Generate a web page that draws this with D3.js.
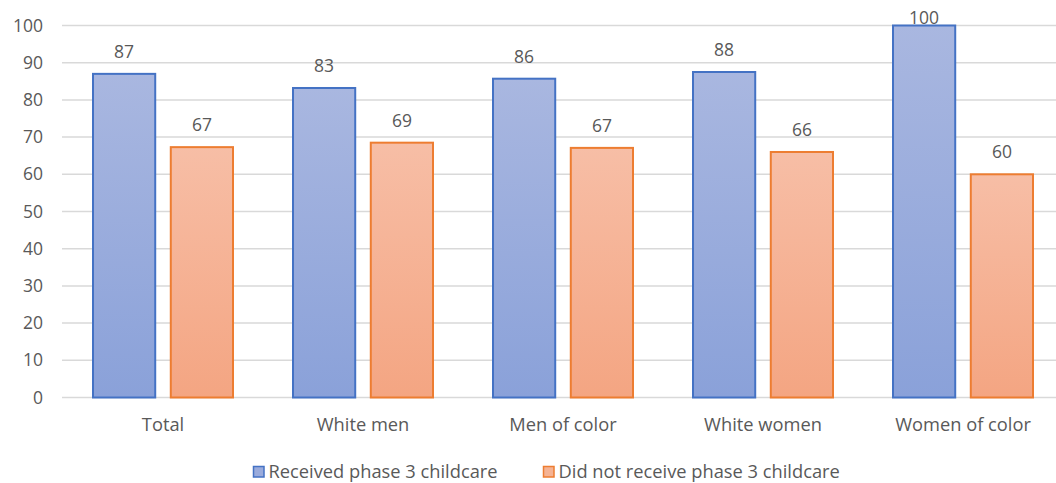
<!DOCTYPE html>
<html>
<head>
<meta charset="utf-8">
<script src="https://cdn.jsdelivr.net/npm/d3@7/dist/d3.min.js"></script>
<style>
  body { margin: 0; background: #fff; }
  svg text { font-family: "Segoe UI", "Open Sans", "Noto Sans", sans-serif; fill: #595959; }
</style>
</head>
<body>
<svg id="chart" width="1056" height="483"></svg>
<script>
/* Daten */
const categories = ["Total", "White men", "Men of color", "White women", "Women of color"];
const seriesNames = ["Received phase 3 childcare", "Did not receive phase 3 childcare"];
const received    = [87.0, 83.2, 85.7, 87.5, 100];
const notReceived = [67.3, 68.5, 67.1, 66.0, 60.0];
const yTicks = [0, 10, 20, 30, 40, 50, 60, 70, 80, 90, 100];

/* Optionen */
const width = 1056, height = 483;
const plot = { left: 63, right: 1063, top: 25.5, bottom: 397.5 };
const fills   = ["url(#gradBlue)", "url(#gradOrange)"];
const strokes = ["#4472c4", "#ed7d31"];
const legendFills = ["#9aabdc", "#f5b394"];
const numFont = "17.5px";
const textFont = "18.3px";

const svg = d3.select("#chart");

const defs = svg.append("defs");
function gradient(id, top, bottom) {
  const g = defs.append("linearGradient")
    .attr("id", id)
    .attr("x1", 0).attr("y1", 0).attr("x2", 0).attr("y2", 1);
  g.append("stop").attr("offset", "0%").attr("stop-color", top);
  g.append("stop").attr("offset", "100%").attr("stop-color", bottom);
}
gradient("gradBlue", "#a9b7e0", "#8aa1d9");
gradient("gradOrange", "#f7bea6", "#f4a582");

const data = categories.map((c, i) => ({ cat: c, values: [received[i], notReceived[i]] }));

const x0 = d3.scaleBand()
  .domain(categories)
  .range([plot.left, plot.right])
  .paddingInner(0.3)
  .paddingOuter(0.15);

const x1 = d3.scaleBand()
  .domain([0, 1])
  .range([0, x0.bandwidth()])
  .paddingInner(0.2);

const y = d3.scaleLinear()
  .domain([0, 100])
  .range([plot.bottom, plot.top]);

// Gitterlinien
svg.append("g")
  .selectAll("line")
  .data(yTicks)
  .enter().append("line")
    .attr("x1", plot.left - 1)
    .attr("x2", width)
    .attr("y1", d => y(d))
    .attr("y2", d => y(d))
    .attr("stroke", "#d9d9d9")
    .attr("stroke-width", 1.5);

// Y Achse
const yAxis = svg.append("g")
  .attr("transform", "translate(" + (plot.left - 1) + ",0)")
  .call(d3.axisLeft(y).tickValues(yTicks).tickSize(0).tickPadding(19));
yAxis.select(".domain").remove();
yAxis.selectAll("text")
  .style("font-size", numFont)
  .attr("fill", "#595959");

// Balken
const groups = svg.append("g")
  .selectAll("g")
  .data(data)
  .enter().append("g")
    .attr("transform", d => "translate(" + x0(d.cat) + ",0)");

groups.selectAll("rect")
  .data(d => d.values.map((v, k) => ({ k: k, v: v })))
  .enter().append("rect")
    .attr("x", d => x1(d.k))
    .attr("y", d => y(d.v))
    .attr("width", x1.bandwidth())
    .attr("height", d => y(0) - y(d.v))
    .attr("fill", d => fills[d.k])
    .attr("stroke", d => strokes[d.k])
    .attr("stroke-width", 2);

// Beschriftung, oben an der Plotflaeche begrenzt
groups.selectAll("text")
  .data(d => d.values.map((v, k) => ({ k: k, v: v })))
  .enter().append("text")
    .attr("x", d => x1(d.k) + x1.bandwidth() / 2)
    .attr("y", d => Math.max(y(d.v) - 16, 24))
    .attr("text-anchor", "middle")
    .style("font-size", numFont)
    .text(d => Math.round(d.v));

// X Achse
const xAxis = svg.append("g")
  .attr("transform", "translate(0," + plot.bottom + ")")
  .call(d3.axisBottom(x0).tickSize(0).tickPadding(21));
xAxis.select(".domain").remove();
xAxis.selectAll("text")
  .style("font-size", textFont)
  .attr("fill", "#595959");

// Legende
const legendX = [253, 543];
const legend = svg.append("g")
  .selectAll("g")
  .data(seriesNames)
  .enter().append("g")
    .attr("transform", (d, i) => "translate(" + legendX[i] + ",466)");

legend.append("rect")
  .attr("x", 0.5).attr("y", 0.5)
  .attr("width", 10.5).attr("height", 10.5)
  .attr("fill", (d, i) => legendFills[i])
  .attr("stroke", (d, i) => strokes[i])
  .attr("stroke-width", 1.5);

legend.append("text")
  .attr("x", 15.5)
  .attr("y", 11.5)
  .style("font-size", textFont)
  .text(d => d);
</script>
</body>
</html>
